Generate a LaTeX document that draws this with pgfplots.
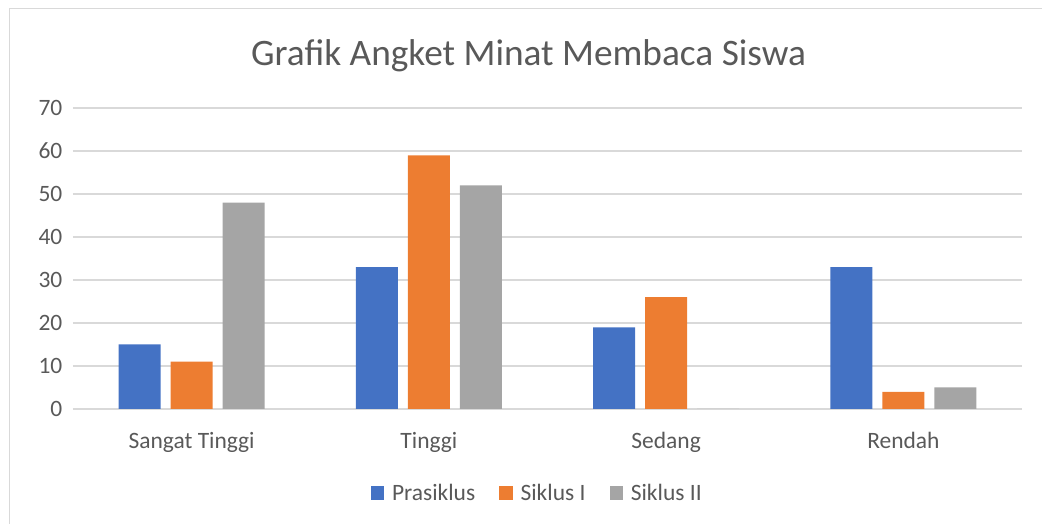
\documentclass[border=0pt]{standalone}
\usepackage{pgfplots}
\pgfplotsset{compat=1.18}
\usepackage{fontspec}
\setmainfont{Carlito}
\definecolor{cblue}{HTML}{4472C4}
\definecolor{corange}{HTML}{ED7D31}
\definecolor{cgray}{HTML}{A5A5A5}
\definecolor{ctext}{HTML}{595959}
\definecolor{cgrid}{HTML}{D9D9D9}
\begin{document}
\begin{tikzpicture}[x=1pt,y=1pt]
\path[use as bounding box] (0,0) rectangle (781.5,393);
\draw[cgrid, line width=1.2pt] (7,0) -- (7,386.5) -- (781.5,386.5);
\node[text=ctext, font=\fontsize{28}{33}\selectfont] at (396.4,351.5) {Grafik Angket Minat Membaca Siswa};
\begin{axis}[
  at={(54.75pt,86.25pt)}, anchor=south west,
  scale only axis, width=711.75pt, height=225.75pt,
  ybar=7.5pt, bar width=31.5pt,
  xmin=-0.5, xmax=3.5, ymin=0, ymax=70,
  xtick={0,1,2,3},
  xticklabels={Sangat Tinggi, Tinggi, Sedang, Rendah},
  ytick={0,10,...,70},
  axis line style={draw=none},
  major tick length=0pt,
  ymajorgrids, grid style={cgrid, line width=1pt},
  tick label style={text=ctext, font=\fontsize{17.6}{20}\selectfont},
  /pgf/number format/assume math mode=true,
  yticklabel style={xshift=-4.5pt},
  xticklabel style={yshift=-14pt},
  legend style={at={(0.4895,-0.279)}, anchor=center, legend columns=-1, draw=none,
    font=\fontsize{17.6}{20}\selectfont, text=ctext,
    /tikz/every odd column/.append style={column sep=4pt},
    /tikz/every even column/.append style={column sep=16pt}},
  legend image code/.code={\fill[#1] (0pt,-5pt) rectangle (10pt,5pt);},
]
\addplot[fill=cblue, draw=none] coordinates {(0,15) (1,33) (2,19) (3,33)};
\addplot[fill=corange, draw=none] coordinates {(0,11) (1,59) (2,26) (3,4)};
\addplot[fill=cgray, draw=none] coordinates {(0,48) (1,52) (2,0) (3,5)};
\legend{Prasiklus, Siklus I, Siklus II}
\end{axis}
\end{tikzpicture}
\end{document}
